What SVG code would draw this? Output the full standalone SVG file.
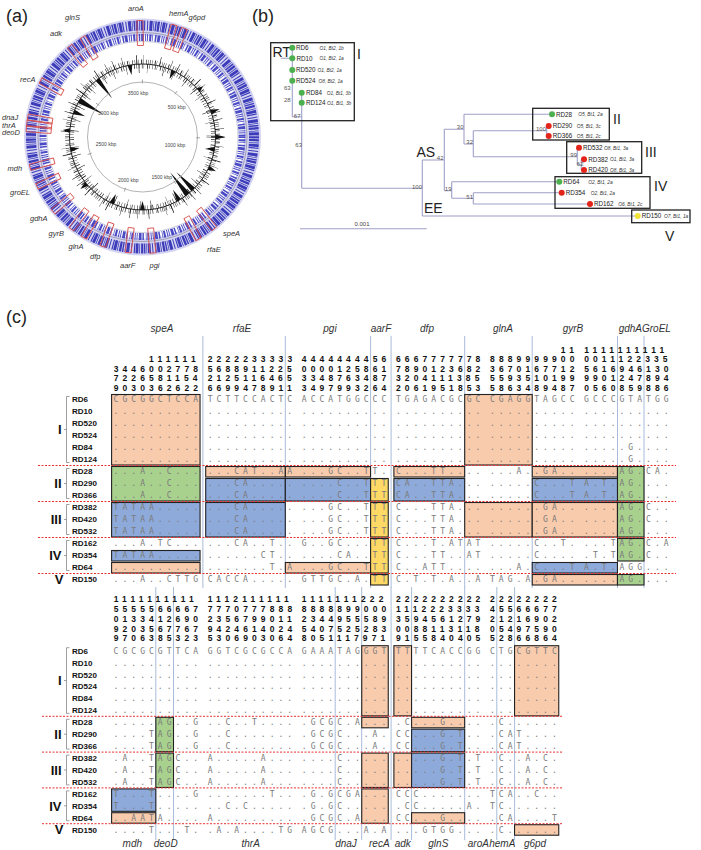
<svg xmlns="http://www.w3.org/2000/svg" width="701" height="850" viewBox="0 0 701 850">
<style>
.pl{font-family:"Liberation Sans",Arial,sans-serif;font-size:18px;fill:#222}
.gl{font-family:"Liberation Sans",Arial,sans-serif;font-style:italic;font-size:7.5px;fill:#333}
.kb{font-family:"Liberation Sans",Arial,sans-serif;font-size:5px;fill:#444;text-anchor:middle}
.mk{fill:none;stroke:#d9534f;stroke-width:0.9}
.sk{fill:#111}
.tk{stroke:#888;stroke-width:0.7}
.tl{fill:none;stroke:#a0a0c8;stroke-width:1.1}
.bx{fill:none;stroke:#222;stroke-width:1.3}
.lf{font-family:"Liberation Sans",Arial,sans-serif;font-size:6.3px;fill:#222}
.sr{font-family:"Liberation Sans",Arial,sans-serif;font-size:4.8px;font-style:italic;fill:#333}
.bs{font-family:"Liberation Sans",Arial,sans-serif;font-size:6px;fill:#555;text-anchor:end}
.cl{font-family:"Liberation Sans",Arial,sans-serif;font-size:14px;fill:#222}
.gn{fill:#4caf50}.rd{fill:#e3241b}.yl{fill:#f2e33a}
.g2{font-family:"Liberation Sans",Arial,sans-serif;font-style:italic;font-size:10px;fill:#333;text-anchor:middle}
.h{font-family:"Liberation Sans",Arial,sans-serif;font-weight:bold;font-size:8.5px;fill:#111;letter-spacing:4.124px}
.d{font-family:"DejaVu Sans Mono",monospace;font-size:8px;fill:#7a7a7a;letter-spacing:4.034px}
.rl{font-family:"Liberation Sans",Arial,sans-serif;font-weight:bold;font-size:8px;fill:#111}
.rn{font-family:"Liberation Sans",Arial,sans-serif;font-weight:bold;font-size:13px;fill:#111;text-anchor:end}
.br{fill:none;stroke:#888;stroke-width:0.8}
.vl{stroke:#a9bcd9;stroke-width:1}
.sp{stroke:#e83030;stroke-width:1;stroke-dasharray:2 1.5}
.fo{fill:#f8cbad;stroke:#222;stroke-width:1.1}
.fb{fill:#8eaadb;stroke:#222;stroke-width:1.1}
.fg{fill:#a9d18e;stroke:#222;stroke-width:1.1}
.fy{fill:#ffd965;stroke:#222;stroke-width:1.1}
</style>
<rect width="701" height="850" fill="#fff"/>

<text class="pl" x="6" y="22">(a)</text>
<text class="pl" x="252" y="22">(b)</text>
<text class="pl" x="6" y="323">(c)</text>

<!-- Panel (a): circular genome map -->
<g id="panel-a">
<circle cx="142.5" cy="137" r="110" fill="none" stroke="#d4d4f2" stroke-width="17"/>
<circle cx="142.5" cy="137" r="111.5" fill="none" stroke="#2b2bb5" stroke-width="10" stroke-dasharray="1.4 0.7 2.3 1.1 0.8 0.8 2.8 0.6 1.2 1.9 1 1.4 3 0.8 0.7 1" opacity="0.9"/>
<circle cx="142.5" cy="137" r="104.5" fill="none" stroke="#9090a8" stroke-width="0.8"/>
<circle cx="142.5" cy="137" r="99.5" fill="none" stroke="#3737c0" stroke-width="7" stroke-dasharray="1 1.3 2.1 0.8 0.7 2 1.5 0.9 2.8 1.3 0.9 1" opacity="0.9"/>
<circle cx="142.5" cy="137" r="95.5" fill="none" stroke="#b0b0c8" stroke-width="0.6"/>
<circle cx="142.5" cy="137" r="73" fill="none" stroke="#111" stroke-width="0.9"/>
<circle cx="142.5" cy="137" r="75.2" fill="none" stroke="#111" stroke-width="4.5" stroke-dasharray="0.5 1.5 0.4 2.4 0.8 1.1 0.3 2.9 0.6 1.8 0.4 1.2"/>
<circle cx="142.5" cy="137" r="70.8" fill="none" stroke="#111" stroke-width="4.5" stroke-dasharray="0.4 2.1 0.6 1.3 0.3 3.1 0.7 1.7 0.5 2.5"/>
<circle cx="142.5" cy="137" r="77.5" fill="none" stroke="#111" stroke-width="9" stroke-dasharray="0.5 9 0.4 14 0.7 6 0.3 17 0.6 11 0.4 7"/>
<circle cx="142.5" cy="137" r="68.5" fill="none" stroke="#111" stroke-width="9" stroke-dasharray="0.4 12 0.6 8 0.3 16 0.5 10 0.4 13"/>
<polygon class="sk" points="215.5,134.6 215.5,139.4 191.5,137" transform="rotate(-128 142.5 137)"/>
<polygon class="sk" points="215.5,134.2 215.5,139.8 187.5,137" transform="rotate(-150 142.5 137)"/>
<polygon class="sk" points="215.5,134.6 215.5,139.4 203.5,137" transform="rotate(-160 142.5 137)"/>
<polygon class="sk" points="215.5,134.6 215.5,139.4 205.5,137" transform="rotate(-100 142.5 137)"/>
<polygon class="sk" points="215.5,134.6 215.5,139.4 206.5,137" transform="rotate(-65 142.5 137)"/>
<polygon class="sk" points="215.5,134.6 215.5,139.4 207.5,137" transform="rotate(10 142.5 137)"/>
<polygon class="sk" points="215.5,134.4 215.5,139.6 191.5,137" transform="rotate(46 142.5 137)"/>
<polygon class="sk" points="215.5,134.2 215.5,139.8 187.5,137" transform="rotate(52 142.5 137)"/>
<polygon class="sk" points="215.5,134.6 215.5,139.4 203.5,137" transform="rotate(60 142.5 137)"/>
<polygon class="sk" points="215.5,134.6 215.5,139.4 206.5,137" transform="rotate(90 142.5 137)"/>
<polygon class="sk" points="215.5,134.6 215.5,139.4 205.5,137" transform="rotate(115 142.5 137)"/>
<polygon class="sk" points="215.5,134.6 215.5,139.4 206.5,137" transform="rotate(170 142.5 137)"/>
<polygon class="sk" points="215.5,134.6 215.5,139.4 224.5,137" transform="rotate(-20 142.5 137)"/>
<polygon class="sk" points="215.5,134.6 215.5,139.4 225.5,137" transform="rotate(0 142.5 137)"/>
<polygon class="sk" points="215.5,134.6 215.5,139.4 223.5,137" transform="rotate(25 142.5 137)"/>
<polygon class="sk" points="215.5,134.6 215.5,139.4 223.5,137" transform="rotate(140 142.5 137)"/>
<polygon class="sk" points="215.5,134.6 215.5,139.4 222.5,137" transform="rotate(-175 142.5 137)"/>
<polygon class="sk" points="215.5,134.6 215.5,139.4 221.5,137" transform="rotate(-40 142.5 137)"/>
<circle cx="142.5" cy="137" r="55" fill="none" stroke="#aaa" stroke-width="0.9"/>
<line class="tk" x1="196" y1="137" x2="200" y2="137" transform="rotate(-53 142.5 137)"/>
<line class="tk" x1="196" y1="137" x2="200" y2="137" transform="rotate(0.8 142.5 137)"/>
<line class="tk" x1="196" y1="137" x2="200" y2="137" transform="rotate(54.6 142.5 137)"/>
<line class="tk" x1="196" y1="137" x2="200" y2="137" transform="rotate(108.5 142.5 137)"/>
<line class="tk" x1="196" y1="137" x2="200" y2="137" transform="rotate(162.3 142.5 137)"/>
<line class="tk" x1="196" y1="137" x2="200" y2="137" transform="rotate(-143.9 142.5 137)"/>
<line class="tk" x1="196" y1="137" x2="200" y2="137" transform="rotate(-90.1 142.5 137)"/>
<text class="kb" x="138" y="95">3500 kbp</text>
<text class="kb" x="176.7" y="109">500 kbp</text>
<text class="kb" x="175" y="146.7">1000 kbp</text>
<text class="kb" x="161.7" y="178.5">1500 kbp</text>
<text class="kb" x="128.3" y="181.7">2000 kbp</text>
<text class="kb" x="106" y="145.7">2500 kbp</text>
<text class="kb" x="108.3" y="115">3000 kbp</text>
<rect class="mk" x="234" y="134" width="25" height="6" transform="rotate(-91.3 142.5 137)"/>
<rect class="mk" x="234" y="134" width="25" height="6" transform="rotate(-74.2 142.5 137)"/>
<rect class="mk" x="234" y="134" width="25" height="6" transform="rotate(-68.9 142.5 137)"/>
<rect class="mk" x="234" y="134" width="25" height="6" transform="rotate(-120.9 142.5 137)"/>
<rect class="mk" x="234" y="134" width="25" height="6" transform="rotate(-128.7 142.5 137)"/>
<rect class="mk" x="234" y="134" width="25" height="6" transform="rotate(-151 142.5 137)"/>
<rect class="mk" x="234" y="134" width="25" height="6" transform="rotate(-170.1 142.5 137)"/>
<rect class="mk" x="234" y="134" width="25" height="6" transform="rotate(-173.1 142.5 137)"/>
<rect class="mk" x="234" y="134" width="25" height="6" transform="rotate(-175.9 142.5 137)"/>
<rect class="mk" x="234" y="134" width="25" height="6" transform="rotate(164.9 142.5 137)"/>
<rect class="mk" x="234" y="134" width="25" height="6" transform="rotate(154.9 142.5 137)"/>
<rect class="mk" x="234" y="134" width="25" height="6" transform="rotate(140.2 142.5 137)"/>
<rect class="mk" x="234" y="134" width="25" height="6" transform="rotate(127.6 142.5 137)"/>
<rect class="mk" x="234" y="134" width="25" height="6" transform="rotate(120.2 142.5 137)"/>
<rect class="mk" x="234" y="134" width="25" height="6" transform="rotate(110 142.5 137)"/>
<rect class="mk" x="234" y="134" width="25" height="6" transform="rotate(97.1 142.5 137)"/>
<rect class="mk" x="234" y="134" width="25" height="6" transform="rotate(84.9 142.5 137)"/>
<rect class="mk" x="234" y="134" width="25" height="6" transform="rotate(61.2 142.5 137)"/>
<rect class="mk" x="234" y="134" width="25" height="6" transform="rotate(52 142.5 137)"/>
<text class="gl" x="128" y="10.5">aroA</text>
<text class="gl" x="169" y="16">hemA</text>
<text class="gl" x="188.5" y="20">g6pd</text>
<text class="gl" x="65" y="20">glnS</text>
<text class="gl" x="50" y="35.5">adk</text>
<text class="gl" x="20" y="82">recA</text>
<text class="gl" x="2" y="120" font-size="6.4">dnaJ</text>
<text class="gl" x="2" y="127.6" font-size="6.4">thrA</text>
<text class="gl" x="2" y="135.2" font-size="6.4">deoD</text>
<text class="gl" x="7.5" y="171">mdh</text>
<text class="gl" x="10" y="195">groEL</text>
<text class="gl" x="30" y="221">gdhA</text>
<text class="gl" x="48.5" y="236">gyrB</text>
<text class="gl" x="68.5" y="249">glnA</text>
<text class="gl" x="90" y="259">dfp</text>
<text class="gl" x="120" y="267.5">aarF</text>
<text class="gl" x="149.5" y="267.5">pgi</text>
<text class="gl" x="207" y="252">rfaE</text>
<text class="gl" x="223" y="236">speA</text>
</g>

<!-- Panel (b): tree -->
<g id="tree-connectors">
<path class="tl" d="M280.7,58.3H292.3 M292.3,47.7V116.7 M292.3,116.7H301.7 M301.7,92.7V188.3 M301.7,188.3H422.3 M422.3,160V216 M422.3,160H444.3 M444.3,129.3V190.7 M444.3,129.3H464 M464,114.3V144 M464,114.3H552 M464,144H473.3 M473.3,130.7V156.7 M473.3,130.7H546.7 M546.7,126V136 M546.7,126H548.7 M546.7,136H548.7 M473.3,156.7H577.3 M577.3,147.7V164.7 M577.3,147.7H579 M577.3,164.7H581.3 M581.3,159.3V170 M581.3,159.3H584 M581.3,170H584 M444.3,190.7H451.7 M451.7,181.7V198.3 M451.7,181.7H559.3 M451.7,198.3H473.3 M473.3,192.7V204 M473.3,192.7H561.7 M473.3,204H590 M422.3,216H637.7"/>
<path class="tl" d="M300,228.7H426.7"/>
</g>
<g id="tree-labels">
<text class="bs" x="290.7" y="90">63</text>
<text class="bs" x="290.7" y="101.5">28</text>
<text class="bs" x="300.5" y="118.3">67</text>
<text class="bs" x="302" y="146.7">63</text>
<text class="bs" x="422" y="188.5">100</text>
<text class="bs" x="443.5" y="159.5">42</text>
<text class="bs" x="463.5" y="128.5">30</text>
<text class="bs" x="473" y="143.5">32</text>
<text class="bs" x="546" y="130.5">100</text>
<text class="bs" x="577" y="156.5">99</text>
<text class="bs" x="583.5" y="166" font-size="4.5">62</text>
<text class="bs" x="451.5" y="190.5" font-size="4.5">19</text>
<text class="bs" x="473" y="198.5">51</text>
<text class="cl" x="272.5" y="57" font-size="12">RT</text>
<text class="cl" x="416.5" y="157.3" font-size="12">AS</text>
<text class="cl" x="424" y="213.3" font-size="12">EE</text>
<text x="362" y="226" font-family="Liberation Sans, Arial, sans-serif" font-size="6" fill="#444" text-anchor="middle">0.001</text>
</g>
<g id="clade-I">
<rect class="bx" x="270.7" y="42.7" width="83.6" height="78"/>
<text class="cl" x="357" y="58.5">I</text>
<g id="leaf-RD6"><circle class="gn" cx="292.3" cy="47.7" r="3"/><text class="lf" x="296" y="50">RD6</text><text class="sr" x="319.5" y="49.8">O1, Bt2, 1b</text></g>
<g id="leaf-RD10"><circle class="gn" cx="292.3" cy="58.3" r="3"/><text class="lf" x="296.5" y="60.6">RD10</text><text class="sr" x="319.5" y="60.4">O1, Bt2, 1a</text></g>
<g id="leaf-RD520"><circle class="gn" cx="292.3" cy="70" r="3"/><text class="lf" x="296" y="72.3">RD520</text><text class="sr" x="317.5" y="72.1">O1, Bt2, 1a</text></g>
<g id="leaf-RD524"><circle class="gn" cx="292.3" cy="80.7" r="3"/><text class="lf" x="296" y="83">RD524</text><text class="sr" x="318.5" y="82.8">O8, Bt2, 1a</text></g>
<g id="leaf-RD84"><circle class="gn" cx="301.7" cy="92.7" r="3"/><text class="lf" x="306" y="95">RD84</text><text class="sr" x="326.7" y="94.8">O1, Bt1, 3b</text></g>
<g id="leaf-RD124"><circle class="gn" cx="301.7" cy="102.7" r="3"/><text class="lf" x="306" y="105">RD124</text><text class="sr" x="327" y="104.8">O1, Bt1, 3b</text></g>
</g>
<g id="clade-II">
<rect class="bx" x="532.7" y="108.3" width="76.6" height="31.7"/>
<text class="cl" x="613" y="123.5">II</text>
<g id="leaf-RD28"><circle class="gn" cx="552" cy="114.3" r="3"/><text class="lf" x="556" y="116.6">RD28</text><text class="sr" x="578.3" y="116.4">O5, Bt1, 2a</text></g>
<g id="leaf-RD290"><circle class="rd" cx="548.7" cy="126" r="3"/><text class="lf" x="552.7" y="128.3">RD290</text><text class="sr" x="576.7" y="128.1">O5, Bt1, 3c</text></g>
<g id="leaf-RD366"><circle class="rd" cx="548.7" cy="136" r="3"/><text class="lf" x="552.7" y="138.3">RD366</text><text class="sr" x="576.7" y="138.1">O5, Bt1, 2c</text></g>
</g>
<g id="clade-III">
<rect class="bx" x="566.7" y="141.7" width="75" height="31.6"/>
<text class="cl" x="645" y="157">III</text>
<g id="leaf-RD532"><circle class="rd" cx="579" cy="147.7" r="3"/><text class="lf" x="583" y="150">RD532</text><text class="sr" x="604" y="149.8">O8, Bt1, 3a</text></g>
<g id="leaf-RD382"><circle class="rd" cx="584" cy="159.3" r="3"/><text class="lf" x="588.3" y="161.6">RD382</text><text class="sr" x="610" y="161.4">O1, Bt1, 3a</text></g>
<g id="leaf-RD420"><circle class="rd" cx="584" cy="170" r="3"/><text class="lf" x="588.3" y="172.3">RD420</text><text class="sr" x="610" y="172.1">O8, Bt1, 3a</text></g>
</g>
<g id="clade-IV">
<rect class="bx" x="555" y="176.7" width="95" height="31.6"/>
<text class="cl" x="654" y="191" font-size="16">IV</text>
<g id="leaf-RD64"><circle class="gn" cx="559.3" cy="181.7" r="3"/><text class="lf" x="563.3" y="184">RD64</text><text class="sr" x="588.3" y="183.8">O2, Bt1, 2a</text></g>
<g id="leaf-RD354"><circle class="rd" cx="561.7" cy="192.7" r="3"/><text class="lf" x="565.7" y="195">RD354</text><text class="sr" x="590.7" y="194.8">O2, Bt1, 2a</text></g>
<g id="leaf-RD162"><circle class="rd" cx="590" cy="204" r="3"/><text class="lf" x="594" y="206.3">RD162</text><text class="sr" x="618.3" y="206.1">O6, Bt1, 2c</text></g>
</g>
<g id="clade-V">
<rect class="bx" x="631.7" y="210" width="58.3" height="12.7"/>
<text class="cl" x="665" y="240.5" font-size="15">V</text>
<g id="leaf-RD150"><circle class="yl" cx="637.7" cy="215.9" r="3"/><text class="lf" x="641.7" y="218.2">RD150</text><text class="sr" x="664" y="218">O7, Bt1, 1a</text></g>
</g>

<!-- Panel (c) top table -->
<g id="table-top">
<g id="top-gridlines">
<line class="vl" x1="202.9" y1="336" x2="202.9" y2="588"/>
<line class="vl" x1="285.3" y1="336" x2="285.3" y2="588"/>
<line class="vl" x1="370.6" y1="336" x2="370.6" y2="588"/>
<line class="vl" x1="391.1" y1="336" x2="391.1" y2="588"/>
<line class="vl" x1="464.7" y1="336" x2="464.7" y2="588"/>
<line class="vl" x1="532.2" y1="336" x2="532.2" y2="588"/>
<line class="vl" x1="617.5" y1="336" x2="617.5" y2="588"/>
<line class="vl" x1="644" y1="336" x2="644" y2="588"/>
</g>
<g id="top-genes">
<text class="g2" x="162" y="331.5">speA</text>
<text class="g2" x="242" y="331.5">rfaE</text>
<text class="g2" x="330" y="331.5">pgi</text>
<text class="g2" x="381" y="331.5">aarF</text>
<text class="g2" x="427" y="331.5">dfp</text>
<text class="g2" x="503" y="331.5">glnA</text>
<text class="g2" x="573" y="331.5">gyrB</text>
<text class="g2" x="642" y="331.5" style="text-anchor:end">gdhA</text>
<text class="g2" x="642" y="331.5" style="text-anchor:start">GroEL</text>
</g>
<g id="top-boxes">
<rect class="fo" x="111.6" y="394.5" width="88.45" height="70.5"/>
<rect class="fo" x="464.7" y="394.5" width="67.5" height="70.5"/>
<rect class="fg" x="111.6" y="466.5" width="88.45" height="34.5"/>
<rect class="fo" x="205.7" y="466.5" width="79.6" height="10.5"/>
<rect class="fo" x="285.35" y="466.5" width="85.2" height="10.5"/>
<rect class="fo" x="393.9" y="466.5" width="70.75" height="10.5"/>
<rect class="fo" x="532.25" y="466.5" width="85.2" height="10.5"/>
<rect class="fg" x="617.5" y="466.5" width="26.5" height="34.5"/>
<rect class="fb" x="205.7" y="478.5" width="79.6" height="22.5"/>
<rect class="fb" x="285.35" y="478.5" width="85.2" height="22.5"/>
<rect class="fy" x="370.6" y="478.5" width="17.65" height="22.5"/>
<rect class="fb" x="393.9" y="478.5" width="70.75" height="22.5"/>
<rect class="fb" x="532.25" y="478.5" width="85.2" height="22.5"/>
<rect class="fb" x="111.6" y="502.5" width="88.45" height="34.5"/>
<rect class="fb" x="205.7" y="502.5" width="79.6" height="34.5"/>
<rect class="fy" x="370.6" y="502.5" width="17.65" height="34.5"/>
<rect class="fo" x="464.7" y="502.5" width="67.5" height="34.5"/>
<rect class="fo" x="532.25" y="502.5" width="85.2" height="34.5"/>
<rect class="fg" x="617.5" y="502.5" width="26.5" height="34.5"/>
<rect class="fb" x="111.6" y="550.5" width="88.45" height="10.5"/>
<rect class="fo" x="111.6" y="562.5" width="88.45" height="10.5"/>
<rect class="fo" x="285.35" y="562.5" width="85.2" height="10.5"/>
<rect class="fy" x="370.6" y="538.5" width="17.65" height="34.5"/>
<rect class="fg" x="617.5" y="538.5" width="26.5" height="22.5"/>
<rect class="fb" x="532.25" y="562.5" width="85.2" height="10.5"/>
<rect class="fy" x="370.6" y="574.5" width="17.65" height="10.5"/>
<rect class="fo" x="532.25" y="574.5" width="85.2" height="10.5"/>
<rect class="fg" x="617.5" y="574.5" width="26.5" height="10.5"/>
</g>
<g id="top-separators">
<line class="sp" x1="38" y1="465.5" x2="676" y2="465.5"/>
<line class="sp" x1="38" y1="501.5" x2="676" y2="501.5"/>
<line class="sp" x1="38" y1="537.5" x2="676" y2="537.5"/>
<line class="sp" x1="38" y1="573.5" x2="676" y2="573.5"/>
</g>
<g id="top-positions">
<text class="h" y="352.8"><tspan x="560.84">11</tspan><tspan x="584.14">1111111111</tspan></text>
<text class="h" y="362.3"><tspan x="149.04">111111</tspan><tspan x="207.74">2222233333</tspan><tspan x="301.84">4444444456</tspan><tspan x="395.94">6667777778</tspan><tspan x="490.04">8889999900</tspan><tspan x="584.14">0011122335</tspan></text>
<text class="h" y="371.8"><tspan x="113.64">3446002778</tspan><tspan x="207.74">5688911225</tspan><tspan x="301.84">0000125861</tspan><tspan x="395.94">7890123682</tspan><tspan x="490.04">3670167712</tspan><tspan x="584.14">5616946130</tspan></text>
<text class="h" y="381.2"><tspan x="113.64">7226581154</tspan><tspan x="207.74">2125116465</tspan><tspan x="301.84">3348763487</tspan><tspan x="395.94">3204111385</tspan><tspan x="490.04">5593510199</tspan><tspan x="584.14">9901247894</tspan></text>
<text class="h" y="390.6"><tspan x="113.64">9030362622</tspan><tspan x="207.74">6699478911</tspan><tspan x="301.84">3497993264</tspan><tspan x="395.94">2061951853</tspan><tspan x="490.04">5863489487</tspan><tspan x="584.14">0560859886</tspan></text>
</g>
<g id="top-groups">
<path class="br" d="M69.5,396.5H66.5V462.5H69.5M66.5,429.5H64 M69.5,468.5H66.5V498.5H69.5M66.5,483.5H64 M69.5,504.5H66.5V534.5H69.5M66.5,519.5H64 M69.5,540.5H66.5V570.5H69.5M66.5,555.5H64"/>
<text class="rn" x="61.5" y="434.2">I</text>
<text class="rn" x="61.5" y="488.2">II</text>
<text class="rn" x="61.5" y="524.2">III</text>
<text class="rn" x="61.5" y="560.2">IV</text>
<text class="rn" x="63.5" y="584.2">V</text>
</g>
<g id="top-rows">
<text class="rl" x="72" y="402.4">RD6</text>
<text class="rl" x="72" y="414.4">RD10</text>
<text class="rl" x="72" y="426.4">RD520</text>
<text class="rl" x="72" y="438.4">RD524</text>
<text class="rl" x="72" y="450.4">RD84</text>
<text class="rl" x="72" y="462.4">RD124</text>
<text class="rl" x="72" y="474.4">RD28</text>
<text class="rl" x="72" y="486.4">RD290</text>
<text class="rl" x="72" y="498.4">RD366</text>
<text class="rl" x="72" y="510.4">RD382</text>
<text class="rl" x="72" y="522.4">RD420</text>
<text class="rl" x="72" y="534.4">RD532</text>
<text class="rl" x="72" y="546.4">RD162</text>
<text class="rl" x="72" y="558.4">RD354</text>
<text class="rl" x="72" y="570.4">RD64</text>
<text class="rl" x="72" y="582.4">RD150</text>
<text class="d" y="402.4"><tspan x="113.59">CGCGGCTCCA</tspan><tspan x="207.69">TCTTCCACTC</tspan><tspan x="301.79">ACCATGGCCC</tspan><tspan x="395.89">TGAGACGCGC</tspan><tspan x="489.99">CGAGGTAGCC</tspan><tspan x="584.09">GCCCGTATGG</tspan></text>
<text class="d" y="414.4"><tspan x="113.59">..........</tspan><tspan x="207.69">..........</tspan><tspan x="301.79">..........</tspan><tspan x="395.89">..........</tspan><tspan x="489.99">..........</tspan><tspan x="584.09">..........</tspan></text>
<text class="d" y="426.4"><tspan x="113.59">..........</tspan><tspan x="207.69">..........</tspan><tspan x="301.79">..........</tspan><tspan x="395.89">..........</tspan><tspan x="489.99">..........</tspan><tspan x="584.09">..........</tspan></text>
<text class="d" y="438.4"><tspan x="113.59">..........</tspan><tspan x="207.69">..........</tspan><tspan x="301.79">..........</tspan><tspan x="395.89">..........</tspan><tspan x="489.99">..........</tspan><tspan x="584.09">..........</tspan></text>
<text class="d" y="450.4"><tspan x="113.59">..........</tspan><tspan x="207.69">..........</tspan><tspan x="301.79">..........</tspan><tspan x="395.89">..........</tspan><tspan x="489.99">..........</tspan><tspan x="584.09">.....G....</tspan></text>
<text class="d" y="462.4"><tspan x="113.59">..........</tspan><tspan x="207.69">..........</tspan><tspan x="301.79">..........</tspan><tspan x="395.89">..........</tspan><tspan x="489.99">..........</tspan><tspan x="584.09">.....G....</tspan></text>
<text class="d" y="474.4"><tspan x="113.59">...A..C...</tspan><tspan x="207.69">...CAT..AA</tspan><tspan x="301.79">...GC..TT.</tspan><tspan x="395.89">C...TT....</tspan><tspan x="489.99">...A..GA..</tspan><tspan x="584.09">....AG.CA.</tspan></text>
<text class="d" y="486.4"><tspan x="113.59">...A..C...</tspan><tspan x="207.69">...CA.....</tspan><tspan x="301.79">....C..TTT</tspan><tspan x="395.89">CA..TTA...</tspan><tspan x="489.99">.....C...T</tspan><tspan x="584.09">A.T.AG....</tspan></text>
<text class="d" y="498.4"><tspan x="113.59">...A..C...</tspan><tspan x="207.69">...CA.....</tspan><tspan x="301.79">....C..TTT</tspan><tspan x="395.89">CA..TTA...</tspan><tspan x="489.99">.....C...T</tspan><tspan x="584.09">A.T.AG....</tspan></text>
<text class="d" y="510.4"><tspan x="113.59">TATAA.....</tspan><tspan x="207.69">...CA.....</tspan><tspan x="301.79">...GC..TTT</tspan><tspan x="395.89">C...TTA...</tspan><tspan x="489.99">......GA..</tspan><tspan x="584.09">....AG.C..</tspan></text>
<text class="d" y="522.4"><tspan x="113.59">TATAA.....</tspan><tspan x="207.69">...CA.....</tspan><tspan x="301.79">...GC..TTT</tspan><tspan x="395.89">C...TTA...</tspan><tspan x="489.99">......GA..</tspan><tspan x="584.09">....AG.C..</tspan></text>
<text class="d" y="534.4"><tspan x="113.59">TATAA.....</tspan><tspan x="207.69">...CA.....</tspan><tspan x="301.79">...GC..TTT</tspan><tspan x="395.89">C...TTA...</tspan><tspan x="489.99">......GA..</tspan><tspan x="584.09">....AG....</tspan></text>
<text class="d" y="546.4"><tspan x="113.59">...A.TC...</tspan><tspan x="207.69">...CA..T..</tspan><tspan x="301.79">G..GC...TT</tspan><tspan x="395.89">C...T.ATAT</tspan><tspan x="489.99">.....C..T.</tspan><tspan x="584.09">...TAG.C.A</tspan></text>
<text class="d" y="558.4"><tspan x="113.59">TATAA.....</tspan><tspan x="207.69">......CT..</tspan><tspan x="301.79">....CA..TT</tspan><tspan x="395.89">C...TT..AT</tspan><tspan x="489.99">.....C....</tspan><tspan x="584.09">.T.TAG.C..</tspan></text>
<text class="d" y="570.4"><tspan x="113.59">..........</tspan><tspan x="207.69">.......T.A</tspan><tspan x="301.79">...GC..TTT</tspan><tspan x="395.89">C..ATT....</tspan><tspan x="489.99">...A.C...T</tspan><tspan x="584.09">A.T.AGG...</tspan></text>
<text class="d" y="582.4"><tspan x="113.59">...A..CTTG</tspan><tspan x="207.69">CACCA.....</tspan><tspan x="301.79">GTTGC.A.TT</tspan><tspan x="395.89">C.T.T.A..A</tspan><tspan x="489.99">TAG.A.GA..</tspan><tspan x="584.09">....AG....</tspan></text>
</g>
</g>

<!-- Panel (c) bottom table -->
<g id="table-bottom">
<g id="bottom-gridlines">
<line class="vl" x1="155.8" y1="587" x2="155.8" y2="840"/>
<line class="vl" x1="173.5" y1="587" x2="173.5" y2="840"/>
<line class="vl" x1="335.2" y1="587" x2="335.2" y2="840"/>
<line class="vl" x1="361.7" y1="587" x2="361.7" y2="840"/>
<line class="vl" x1="391.1" y1="587" x2="391.1" y2="840"/>
<line class="vl" x1="411.6" y1="587" x2="411.6" y2="840"/>
<line class="vl" x1="464.7" y1="587" x2="464.7" y2="840"/>
<line class="vl" x1="496.8" y1="587" x2="496.8" y2="840"/>
<line class="vl" x1="514.6" y1="587" x2="514.6" y2="840"/>
</g>
<g id="bottom-boxes">
<rect class="fo" x="361.75" y="645.7" width="26.5" height="70.15"/>
<rect class="fo" x="393.9" y="645.7" width="17.65" height="70.15"/>
<rect class="fo" x="514.55" y="645.7" width="44.2" height="70.15"/>
<rect class="fg" x="155.85" y="717.3" width="17.65" height="34.36"/>
<rect class="fg" x="155.85" y="753.1" width="17.65" height="34.36"/>
<rect class="fo" x="361.75" y="717.3" width="26.5" height="10.5"/>
<rect class="fo" x="411.6" y="717.3" width="53.05" height="10.5"/>
<rect class="fb" x="411.6" y="729.2" width="53.05" height="22.43"/>
<rect class="fo" x="361.75" y="753.1" width="26.5" height="34.36"/>
<rect class="fo" x="393.9" y="753.1" width="17.65" height="34.36"/>
<rect class="fb" x="411.6" y="753.1" width="53.05" height="34.36"/>
<rect class="fb" x="111.6" y="788.9" width="44.2" height="22.43"/>
<rect class="fo" x="111.6" y="812.7" width="44.2" height="10.5"/>
<rect class="fo" x="361.75" y="788.9" width="26.5" height="34.36"/>
<rect class="fo" x="411.6" y="812.7" width="53.05" height="10.5"/>
<rect class="fo" x="514.55" y="824.7" width="44.2" height="10.5"/>
</g>
<g id="bottom-separators">
<line class="sp" x1="42" y1="716.3" x2="563" y2="716.3"/>
<line class="sp" x1="42" y1="752.1" x2="563" y2="752.1"/>
<line class="sp" x1="42" y1="787.9" x2="563" y2="787.9"/>
<line class="sp" x1="42" y1="823.7" x2="563" y2="823.7"/>
</g>
<g id="bottom-positions">
<text class="h" y="602.1"><tspan x="113.64">1111111111</tspan><tspan x="207.74">1112111111</tspan><tspan x="301.84">1111111222</tspan><tspan x="395.94">2222222222</tspan><tspan x="490.04">22222222</tspan></text>
<text class="h" y="611.9"><tspan x="113.64">5555566667</tspan><tspan x="207.74">7770777888</tspan><tspan x="301.84">8888899000</tspan><tspan x="395.94">1112223333</tspan><tspan x="490.04">45566677</tspan></text>
<text class="h" y="621.7"><tspan x="113.64">0133412690</tspan><tspan x="207.74">2356799011</tspan><tspan x="301.84">2344955589</tspan><tspan x="395.94">3594561279</tspan><tspan x="490.04">21216902</tspan></text>
<text class="h" y="631.5"><tspan x="113.64">9203567767</tspan><tspan x="207.74">9424614024</tspan><tspan x="301.84">5407525283</tspan><tspan x="395.94">0088113118</tspan><tspan x="490.04">05497590</tspan></text>
<text class="h" y="641.3"><tspan x="113.64">9706385323</tspan><tspan x="207.74">5306903064</tspan><tspan x="301.84">8051117971</tspan><tspan x="395.94">9155840405</tspan><tspan x="490.04">52866864</tspan></text>
</g>
<g id="bottom-groups">
<path class="br" d="M69.5,647.7H66.5V713.4H69.5M66.5,680.5H64 M69.5,719.3H66.5V749.1H69.5M66.5,734.2H64 M69.5,755.1H66.5V784.9H69.5M66.5,770H64 M69.5,790.9H66.5V820.7H69.5M66.5,805.8H64"/>
<text class="rn" x="61.5" y="685.2">I</text>
<text class="rn" x="61.5" y="738.9">II</text>
<text class="rn" x="61.5" y="774.7">III</text>
<text class="rn" x="61.5" y="810.5">IV</text>
<text class="rn" x="63.5" y="834.4">V</text>
</g>
<g id="bottom-rows">
<text class="rl" x="72" y="653.6">RD6</text>
<text class="rl" x="72" y="665.5">RD10</text>
<text class="rl" x="72" y="677.5">RD520</text>
<text class="rl" x="72" y="689.4">RD524</text>
<text class="rl" x="72" y="701.3">RD84</text>
<text class="rl" x="72" y="713.3">RD124</text>
<text class="rl" x="72" y="725.2">RD28</text>
<text class="rl" x="72" y="737.1">RD290</text>
<text class="rl" x="72" y="749">RD366</text>
<text class="rl" x="72" y="761">RD382</text>
<text class="rl" x="72" y="772.9">RD420</text>
<text class="rl" x="72" y="784.8">RD532</text>
<text class="rl" x="72" y="796.8">RD162</text>
<text class="rl" x="72" y="808.7">RD354</text>
<text class="rl" x="72" y="820.6">RD64</text>
<text class="rl" x="72" y="832.6">RD150</text>
<text class="d" y="653.6"><tspan x="113.59">CGCGCGTTCA</tspan><tspan x="207.69">GGTCGCGCCA</tspan><tspan x="301.79">GAAATAGGGT</tspan><tspan x="395.89">TTTTCACCGG</tspan><tspan x="489.99">CTGCGTTC</tspan></text>
<text class="d" y="665.5"><tspan x="113.59">..........</tspan><tspan x="207.69">..........</tspan><tspan x="301.79">..........</tspan><tspan x="395.89">..........</tspan><tspan x="489.99">........</tspan></text>
<text class="d" y="677.5"><tspan x="113.59">..........</tspan><tspan x="207.69">..........</tspan><tspan x="301.79">..........</tspan><tspan x="395.89">..........</tspan><tspan x="489.99">........</tspan></text>
<text class="d" y="689.4"><tspan x="113.59">..........</tspan><tspan x="207.69">..........</tspan><tspan x="301.79">..........</tspan><tspan x="395.89">..........</tspan><tspan x="489.99">........</tspan></text>
<text class="d" y="701.3"><tspan x="113.59">..........</tspan><tspan x="207.69">..........</tspan><tspan x="301.79">..........</tspan><tspan x="395.89">..........</tspan><tspan x="489.99">........</tspan></text>
<text class="d" y="713.3"><tspan x="113.59">..........</tspan><tspan x="207.69">..........</tspan><tspan x="301.79">..........</tspan><tspan x="395.89">..........</tspan><tspan x="489.99">........</tspan></text>
<text class="d" y="725.2"><tspan x="113.59">.....AG..G</tspan><tspan x="207.69">..C..T....</tspan><tspan x="301.79">.GCGC.A...</tspan><tspan x="395.89">.C...G....</tspan><tspan x="489.99">.C......</tspan></text>
<text class="d" y="737.1"><tspan x="113.59">....TAG..G</tspan><tspan x="207.69">..C.......</tspan><tspan x="301.79">.GCGC...A.</tspan><tspan x="395.89">CC...G.T..</tspan><tspan x="489.99">.CAT....</tspan></text>
<text class="d" y="749"><tspan x="113.59">....TAG..G</tspan><tspan x="207.69">..C.......</tspan><tspan x="301.79">.GCGC...A.</tspan><tspan x="395.89">CC...G.T..</tspan><tspan x="489.99">.CAT....</tspan></text>
<text class="d" y="761"><tspan x="113.59">.A..TAGC..</tspan><tspan x="207.69">A.....A...</tspan><tspan x="301.79">....C.....</tspan><tspan x="395.89">.....G.T.T</tspan><tspan x="489.99">.C..A.C.</tspan></text>
<text class="d" y="772.9"><tspan x="113.59">.A..TAGC..</tspan><tspan x="207.69">A.....A...</tspan><tspan x="301.79">....C.....</tspan><tspan x="395.89">.....G.T.T</tspan><tspan x="489.99">.C..A.C.</tspan></text>
<text class="d" y="784.8"><tspan x="113.59">.A..TAGC..</tspan><tspan x="207.69">A.....A...</tspan><tspan x="301.79">....C.....</tspan><tspan x="395.89">.....G.T.T</tspan><tspan x="489.99">.C..A.C.</tspan></text>
<text class="d" y="796.8"><tspan x="113.59">T...T....G</tspan><tspan x="207.69">.......T..</tspan><tspan x="301.79">.G.GCGA...</tspan><tspan x="395.89">CCC.......</tspan><tspan x="489.99">TCA..C..</tspan></text>
<text class="d" y="808.7"><tspan x="113.59">T...T.....</tspan><tspan x="207.69">..C.C.....</tspan><tspan x="301.79">.G.GC.....</tspan><tspan x="395.89">.CC.....A.</tspan><tspan x="489.99">TC......</tspan></text>
<text class="d" y="820.6"><tspan x="113.59">..AATA....</tspan><tspan x="207.69">A.........</tspan><tspan x="301.79">.GCGC.A...</tspan><tspan x="395.89">CC...G....</tspan><tspan x="489.99">.CA....T</tspan></text>
<text class="d" y="832.6"><tspan x="113.59">....T...T.</tspan><tspan x="207.69">.A.A....TG</tspan><tspan x="301.79">AGCG...A.A</tspan><tspan x="395.89">...GTGG...</tspan><tspan x="489.99">.C......</tspan></text>
</g>
<g id="bottom-genes">
<text class="g2" x="132.3" y="846.5">mdh</text>
<text class="g2" x="165.7" y="846.5">deoD</text>
<text class="g2" x="250.7" y="846.5">thrA</text>
<text class="g2" x="346" y="846.5">dnaJ</text>
<text class="g2" x="379.3" y="846.5">recA</text>
<text class="g2" x="402.7" y="846.5">adk</text>
<text class="g2" x="438.3" y="846.5">glnS</text>
<text class="g2" x="478.3" y="846.5">aroA</text>
<text class="g2" x="502.3" y="846.5">hemA</text>
<text class="g2" x="535" y="846.5">g6pd</text>
</g>
</g>
</svg>
